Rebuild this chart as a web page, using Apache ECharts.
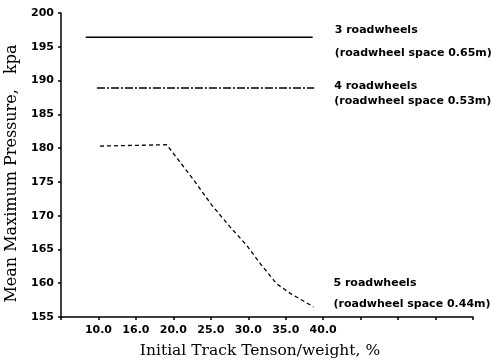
<!DOCTYPE html>
<html>
<head>
<meta charset="utf-8">
<script src="https://cdn.jsdelivr.net/npm/echarts@6/dist/echarts.min.js"></script>
<style>
  html, body { margin: 0; padding: 0; background: #fff; }
  #chart { width: 491px; height: 364px; }
</style>
</head>
<body>
<div id="chart"></div>
<script>
// values
const xTickValues = [10, 15, 20, 25, 30, 35, 40]
const xTickLabels = ['10.0', '16.0', '20.0', '25.0', '30.0', '35.0', '40.0']

const wheels3 = [[8.3, 196.4], [38.6, 196.4]]
const wheels4 = [[9.8, 188.9], [38.8, 188.9]]
const wheels5 = [
  [10.2, 180.3], [19.1, 180.5], [20.5, 178.5], [22.7, 175.3], [25.1, 171.6],
  [27.6, 168.3], [29.8, 165.6], [31.6, 162.9], [33.8, 159.9], [35.6, 158.5], [38.7, 156.5]
]
const seriesNames = ['3 roadwheels', '4 roadwheels', '5 roadwheels']
const spacingNotes = ['(roadwheel space 0.65m)', '(roadwheel space 0.53m)', '(roadwheel space 0.44m)']

const sansBold = { fontFamily: 'DejaVu Sans', fontWeight: 'bold', fontSize: 11, color: '#000' }
const serif = { fontFamily: 'DejaVu Serif', fontSize: 16, color: '#000' }

const endLabel = (i, lineHeight, offset) => ({
  show: true,
  formatter: () => seriesNames[i] + '\n' + spacingNotes[i],
  align: 'left',
  lineHeight: lineHeight,
  offset: offset,
  ...sansBold
})

const myChart = echarts.init(document.getElementById('chart'))
myChart.setOption({
  animation: false,
  backgroundColor: '#fff',
  grid: {
    left: 61,
    right: 18,
    top: 13,
    bottom: 47,
    outerBoundsMode: 'none'
  },
  xAxis: {
    type: 'value',
    min: 5,
    max: 60,
    interval: 5,
    name: 'Initial Track Tenson/weight, %',
    nameLocation: 'middle',
    nameGap: 26,
    nameTextStyle: { ...serif, fontSize: 15.5, padding: [0, 14, 0, 0] },
    axisLine: { lineStyle: { color: '#000', width: 1.5 } },
    axisTick: { length: 3, lineStyle: { color: '#000', width: 1.5 } },
    splitLine: { show: false },
    axisLabel: {
      margin: 8,
      ...sansBold,
      formatter: v => {
        const k = xTickValues.indexOf(v)
        return k < 0 ? '' : xTickLabels[k]
      }
    }
  },
  yAxis: {
    type: 'value',
    min: 155,
    max: 200,
    interval: 5,
    name: 'Mean Maximum Pressure,   kpa',
    nameLocation: 'middle',
    nameGap: 40,
    nameTextStyle: { ...serif, padding: [0, 17, 0, 0] },
    axisLine: { show: true, lineStyle: { color: '#000', width: 1.5 } },
    axisTick: { show: true, length: 3, lineStyle: { color: '#000', width: 1.5 } },
    splitLine: { show: false },
    axisLabel: { margin: 7, ...sansBold }
  },
  series: [{
    name: seriesNames[0],
    type: 'line',
    data: wheels3,
    showSymbol: false,
    lineStyle: { color: '#000', width: 1.5, type: 'solid' },
    endLabel: endLabel(0, 23, [14, 4])
  }, {
    name: seriesNames[1],
    type: 'line',
    data: wheels4,
    showSymbol: false,
    lineStyle: { color: '#000', width: 1.5, type: [8, 2, 2, 2] },
    endLabel: endLabel(1, 15, [12, 6])
  }, {
    name: seriesNames[2],
    type: 'line',
    data: wheels5,
    showSymbol: false,
    lineStyle: { color: '#000', width: 1.3, type: [4, 3] },
    endLabel: endLabel(2, 21, [12, -13])
  }]
})
</script>
</body>
</html>
